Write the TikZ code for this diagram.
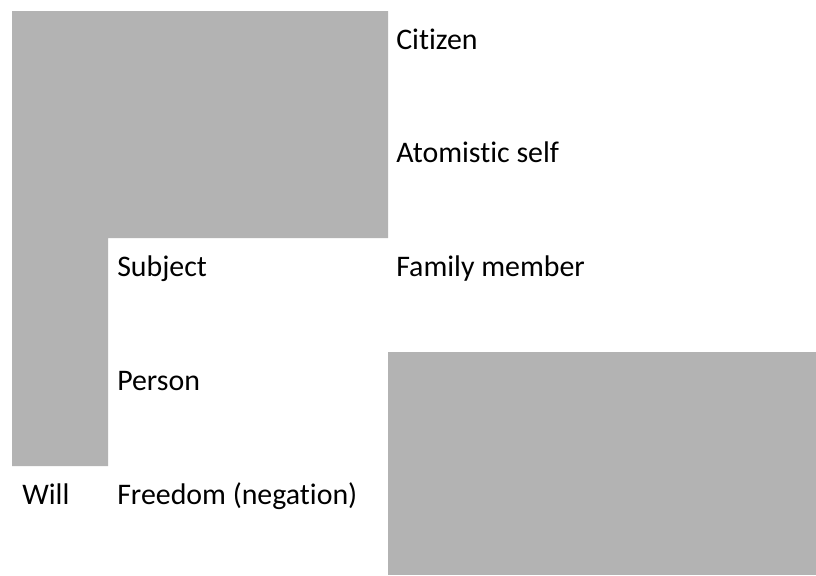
\documentclass[tikz,border=0pt]{standalone}
\usepackage{fontspec}
\setmainfont{Carlito}[Ligatures={NoCommon}]
\usetikzlibrary{positioning}

\definecolor{shade}{RGB}{179,179,179}

\begin{document}
\begin{tikzpicture}[x=0.75pt,y=-0.75pt,
  lbl/.style={anchor=base west,inner sep=0pt,font=\fontsize{22.4}{26}\selectfont},
  block/.style={fill=shade,draw=none}]
  \useasboundingbox (0,0) rectangle (816,575);

  % grey blocks
  \path[block] (12,11) -| (388,238) -| (108,466) -| cycle;
  \path[block] (388,352) rectangle (816,575);

  % labels
  \node[lbl] (citizen)   at (396,49)  {Citizen};
  \node[lbl] (atomistic) at (396,162) {Atomistic self};
  \node[lbl] (subject)   at (117,276) {Subject};
  \node[lbl] (family)    at (396,276) {Family member};
  \node[lbl] (person)    at (117,390) {Person};
  \node[lbl] (will)      at (22,504)  {Will};
  \node[lbl] (freedom)   at (117,504) {Freedom (negation)};
\end{tikzpicture}
\end{document}
